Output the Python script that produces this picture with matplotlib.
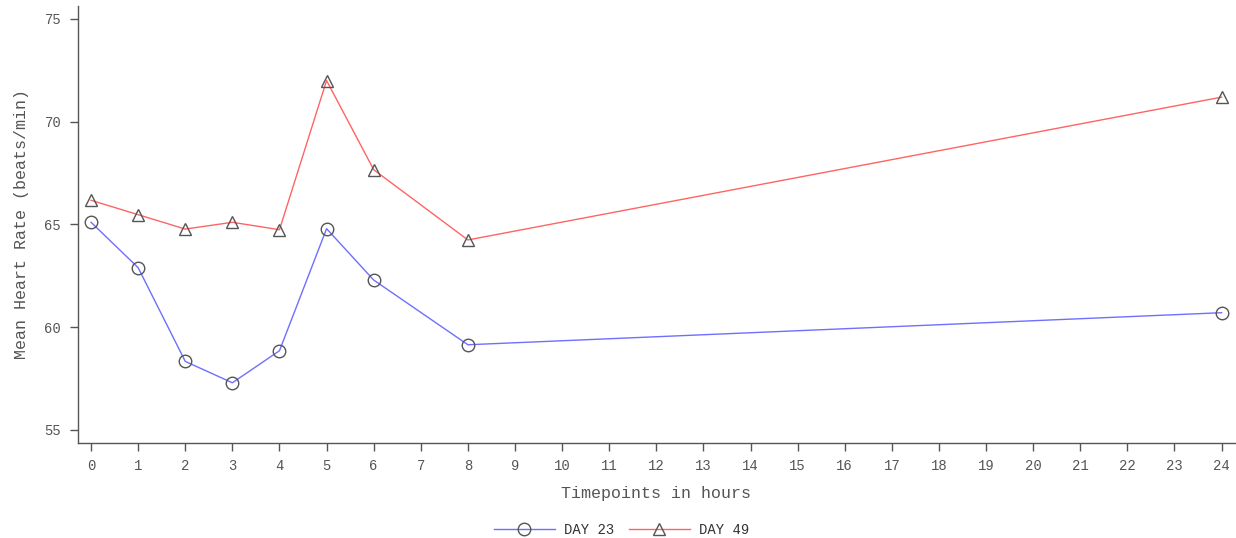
import matplotlib
matplotlib.use("Agg")
import matplotlib.pyplot as plt

# Data
hours = [0, 1, 2, 3, 4, 5, 6, 8, 24]
day23 = [65.1, 62.89, 58.33, 57.29, 58.85, 64.79, 62.29, 59.14, 60.70]
day49 = [66.17, 65.47, 64.77, 65.1, 64.74, 72.0, 67.66, 64.24, 71.19]
x_ticks = list(range(0, 25))
y_ticks = [55, 60, 65, 70, 75]

plt.rcParams['font.family'] = ['Liberation Mono', 'DejaVu Sans Mono']
text_color = "#555555"

fig = plt.figure(figsize=(12.36, 5.38), dpi=100)
ax = fig.add_axes([0.063, 0.177, 0.936, 0.812])

ax.plot(hours, day23, color="#6f6fff", lw=1.0, marker="o", markersize=9,
        markerfacecolor="none", markeredgecolor="#555555", markeredgewidth=1.0,
        label="DAY 23")
ax.plot(hours, day49, color="#ff6464", lw=1.0, marker="^", markersize=9,
        markerfacecolor="none", markeredgecolor="#555555", markeredgewidth=1.0,
        label="DAY 49")

ax.set_xlim(-0.28, 24.28)
ax.set_ylim(54.37, 75.63)
ax.set_xticks(x_ticks)
ax.set_yticks(y_ticks)

for side in ["top", "right"]:
    ax.spines[side].set_visible(False)
for side in ["left", "bottom"]:
    ax.spines[side].set_color("#555555")
    ax.spines[side].set_linewidth(1.0)

ax.tick_params(axis="both", direction="out", length=6, width=1,
               color="#555555", labelcolor=text_color, labelsize=10, pad=6)

ax.set_xlabel("Timepoints in hours", fontsize=12, color=text_color, labelpad=9)
ax.set_ylabel("Mean Heart Rate (beats/min)", fontsize=12, color=text_color, labelpad=11)

leg = ax.legend(loc="center", bbox_to_anchor=(0.470, -0.199), ncol=2,
                frameon=False, fontsize=10, handlelength=4.4, handletextpad=0.7,
                columnspacing=1.0, labelcolor="#333333",
                borderpad=0, borderaxespad=0)

fig.savefig("out.png", dpi=100)
